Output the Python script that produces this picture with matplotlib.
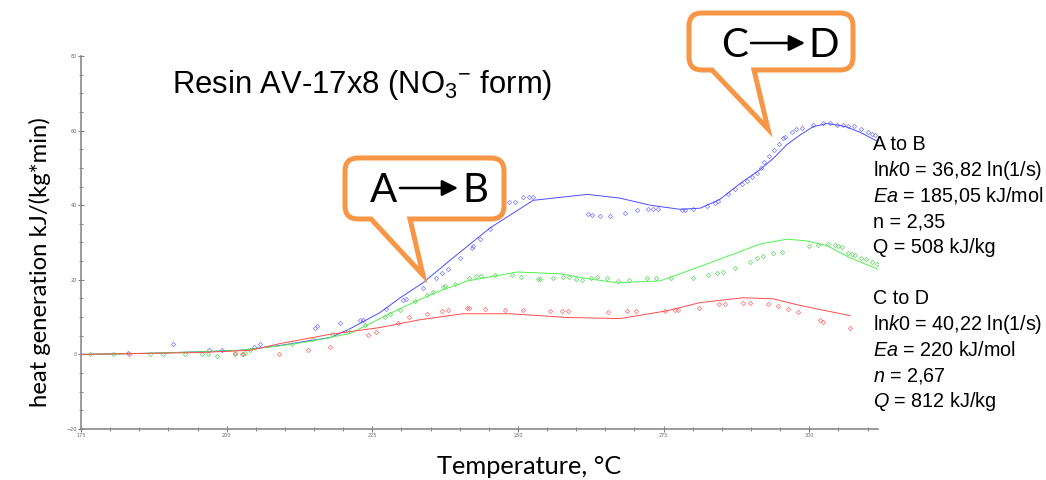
import matplotlib
matplotlib.use("Agg")
import matplotlib.pyplot as plt
from matplotlib.path import Path
from matplotlib.patches import PathPatch
from matplotlib.ticker import MultipleLocator

plt.rcParams["mathtext.fontset"] = "custom"
plt.rcParams["mathtext.rm"] = "Liberation Sans"
plt.rcParams["mathtext.it"] = "Liberation Sans:italic"
plt.rcParams["mathtext.bf"] = "Liberation Sans:bold"

# ---- model curves (temperature, heat generation) ----
fit_blue_t = [175.0, 186.8, 195.4, 202.3, 209.2, 214.3, 217.8, 221.2, 226.3, 229.8,
              233.7, 238.4, 245.2, 252.6, 257.2, 261.9, 267.5, 272.7, 277.8, 281.3,
              284.7, 288.2, 291.6, 293.8, 296.2, 298.5, 300.7, 303.1, 306.2, 308.8, 311.7]
fit_blue_q = [0.0, 0.3, 0.7, 1.1, 2.4, 3.7, 4.5, 6.9, 11.2, 15.2,
              19.2, 25.3, 33.9, 41.3, 42.1, 42.9, 41.9, 40.0, 38.9, 39.2,
              41.6, 45.9, 49.6, 52.5, 56.3, 58.9, 61.1, 61.9, 61.1, 59.5, 57.1]

fit_green_t = [175.0, 186.8, 195.4, 202.3, 209.2, 214.3, 221.2, 226.3, 229.8, 235.4,
               241.3, 249.9, 257.2, 262.0, 267.0, 274.4, 280.1, 287.0, 291.6, 296.2,
               299.7, 303.1, 307.0, 311.7]
fit_green_q = [0.0, 0.3, 0.7, 1.1, 2.3, 3.5, 5.6, 9.6, 12.3, 16.3,
               19.7, 22.1, 21.6, 20.3, 19.2, 19.7, 22.9, 26.9, 29.6, 30.9,
               30.4, 29.1, 25.9, 22.9]

fit_red_t = [175.0, 195.4, 204.0, 209.2, 217.8, 226.3, 233.2, 240.6, 248.7, 258.4,
             267.5, 275.6, 281.3, 288.7, 293.8, 298.5, 307.0]
fit_red_q = [0.0, 0.5, 1.1, 2.9, 5.4, 7.2, 9.3, 10.9, 10.9, 9.9,
             9.6, 11.7, 13.9, 15.2, 14.9, 13.1, 10.4]

# ---- measured points ----
exp_blue_t = [183.1, 190.8, 197.0, 199.2, 204.7, 205.7, 215.2, 215.5, 219.5, 222.9,
              223.4, 227.4, 230.3, 230.8, 233.7, 236.0, 237.0, 238.0, 240.1, 242.1,
              242.3, 243.5, 245.2, 248.5, 249.5, 250.9, 251.9, 252.6, 262.1, 262.7,
              264.1, 265.8, 268.4, 270.5, 272.4, 273.2, 274.1, 278.2, 278.7, 280.1,
              282.5, 283.9, 284.4, 286.1, 287.3, 288.5, 289.4, 290.2, 291.1, 291.8,
              292.3, 293.1, 294.0, 294.8, 295.5, 295.9, 297.1, 297.8, 298.8, 300.7,
              302.4, 303.6, 304.8, 305.8, 306.7, 307.6, 308.8, 310.0, 310.8, 311.3]
exp_blue_q = [0.3, 2.7, 1.1, 1.3, 2.1, 2.7, 7.2, 7.5, 8.5, 9.1,
              9.1, 12.3, 14.7, 14.9, 17.9, 20.5, 21.9, 22.9, 25.9, 28.5,
              29.1, 30.9, 33.6, 40.8, 40.8, 42.1, 42.1, 42.1, 37.6, 37.3,
              37.1, 37.1, 37.9, 38.7, 38.9, 38.9, 38.9, 38.7, 38.7, 38.9,
              39.7, 40.5, 41.1, 42.9, 44.3, 45.6, 46.4, 47.5, 48.5, 49.9,
              51.5, 53.3, 54.9, 56.5, 57.9, 58.4, 59.5, 60.3, 60.8, 61.6,
              62.1, 62.1, 61.6, 61.6, 61.3, 61.1, 60.3, 59.7, 59.2, 58.9]

exp_green_t = [176.5, 180.5, 186.8, 189.1, 192.9, 195.8, 196.8, 198.4, 201.4, 202.6,
               203.2, 204.0, 211.2, 214.8, 218.1, 220.8, 223.8, 227.2, 228.1, 229.8,
               232.3, 234.4, 235.4, 237.2, 237.5, 239.2, 241.6, 242.8, 243.7, 246.1,
               249.0, 250.5, 253.5, 253.8, 256.0, 257.8, 258.8, 260.0, 261.0, 262.6,
               263.6, 265.3, 267.2, 269.1, 272.2, 273.7, 276.3, 280.1, 282.7, 284.2,
               285.2, 287.3, 289.9, 291.1, 292.1, 293.8, 295.4, 300.0, 301.5, 303.3,
               304.5, 305.0, 305.7, 306.7, 307.4, 307.9, 308.8, 309.8, 310.8, 311.7]
exp_green_q = [0.0, 0.0, 0.0, 0.0, 0.0, 0.0, 0.0, -0.3, 0.0, 0.0,
               0.3, 1.3, 2.9, 4.0, 5.6, 6.4, 8.0, 9.9, 10.7, 12.0,
               14.4, 16.0, 16.8, 18.1, 18.4, 18.9, 20.5, 21.1, 21.1, 21.3,
               21.3, 20.8, 20.3, 20.3, 20.5, 20.8, 20.8, 20.3, 20.0, 20.5,
               20.8, 20.5, 19.7, 20.0, 20.5, 20.5, 20.5, 20.5, 21.3, 21.9,
               22.1, 23.2, 24.8, 25.9, 26.4, 27.2, 27.5, 29.1, 29.3, 29.6,
               29.3, 29.1, 28.8, 27.2, 26.9, 26.7, 25.9, 25.6, 24.8, 24.3]

exp_red_t = [183.2, 201.4, 202.8, 209.0, 214.0, 217.8, 224.3, 225.7, 229.4, 231.3,
             234.4, 237.0, 238.0, 241.3, 241.6, 244.4, 247.8, 250.9, 255.5, 257.6,
             258.6, 265.5, 268.7, 270.3, 275.3, 277.0, 277.5, 281.0, 284.5, 285.6,
             288.7, 289.9, 293.0, 294.7, 296.4, 298.1, 301.9, 302.4, 307.0]
exp_red_q = [0.0, 0.3, 0.0, 0.0, 1.3, 2.1, 5.3, 6.1, 8.5, 9.9,
             10.9, 11.7, 12.0, 12.5, 12.5, 12.3, 12.0, 12.0, 11.7, 11.7,
             11.7, 11.5, 11.7, 11.7, 11.7, 12.0, 12.0, 12.5, 13.6, 13.6,
             13.9, 13.9, 13.6, 13.1, 12.3, 11.5, 9.1, 8.8, 7.2]

x_ticks = [175, 200, 225, 250, 275, 300]
y_ticks = [-20, 0, 20, 40, 60, 80]

title_text = r"Resin AV-17x8 (NO$_3$$^{-}$ form)"
xlabel_text = "Temperature, °C"
ylabel_text = "heat generation kJ/(kg*min)"
params_ab = ["A to B",
             r"ln$\mathit{k0}$ = 36,82 ln(1/s)",
             r"$\mathit{Ea}$ = 185,05 kJ/mol",
             "n = 2,35",
             "Q = 508 kJ/kg"]
params_cd = ["C to D",
             r"ln$\mathit{k0}$ = 40,22 ln(1/s)",
             r"$\mathit{Ea}$ = 220 kJ/mol",
             r"$\mathit{n}$ = 2,67",
             r"$\mathit{Q}$ = 812 kJ/kg"]

W, H = 1046, 480
fig = plt.figure(figsize=(W / 100, H / 100), dpi=100)
ax = fig.add_axes([81 / W, 1 - 429 / H, (878 - 81) / W, (429 - 56) / H])

series = [
    (fit_blue_t, fit_blue_q, exp_blue_t, exp_blue_q, "#4c4cff", "#8080ff"),
    (fit_green_t, fit_green_q, exp_green_t, exp_green_q, "#52f052", "#6ad86a"),
    (fit_red_t, fit_red_q, exp_red_t, exp_red_q, "#ff4c4c", "#ff7474"),
]
for ft, fq, et, eq, lc, mc in series:
    ax.plot(et, eq, linestyle="none", marker="D", markersize=2.2,
            markerfacecolor="none", markeredgecolor=mc, markeredgewidth=0.55)
    ax.plot(ft, fq, color=lc, linewidth=0.7)

ax.set_xlim(175, 311.8)
ax.set_ylim(-20, 80)
ax.set_xticks(x_ticks)
ax.set_yticks(y_ticks)
ax.xaxis.set_minor_locator(MultipleLocator(5))
ax.yaxis.set_minor_locator(MultipleLocator(5))
for s in ("top", "right"):
    ax.spines[s].set_visible(False)
for s in ("left", "bottom"):
    ax.spines[s].set_color("#8a8a8a")
    ax.spines[s].set_linewidth(1.2)
ax.tick_params(which="major", direction="inout", length=4, width=0.8,
               color="#808080", labelsize=3.5, labelcolor="#666666", pad=1)
ax.tick_params(which="minor", direction="inout", length=3, width=0.7, color="#808080")
ax.patch.set_alpha(0)

fig.text(40 / W, 1 - 262 / H, ylabel_text, rotation=90, ha="center", va="center",
         family="Lato", fontsize=17.2)
fig.text(529 / W, 1 - 466 / H, xlabel_text, ha="center", va="center",
         family="Lato", fontsize=18.3)

# overlay in pixel units for title, callouts and parameter text
ov = fig.add_axes([0, 0, 1, 1], zorder=5)
ov.set_xlim(0, W)
ov.set_ylim(H, 0)
ov.axis("off")
ov.patch.set_alpha(0)

ov.text(172, 93, title_text, ha="left", va="baseline", family="Liberation Sans",
        fontsize=22.3)

for i, line in enumerate(params_ab):
    ov.text(873, 150 + i * 25.8, line, ha="left", va="baseline",
            family="Liberation Sans", fontsize=14.2)
for i, line in enumerate(params_cd):
    ov.text(873, 304 + i * 25.8, line, ha="left", va="baseline",
            family="Liberation Sans", fontsize=14.2)


def callout(x0, y0, x1, y1, r, base_l, base_r, tip):
    verts = [(x0 + r, y0), (x1 - r, y0), (x1, y0), (x1, y0 + r),
             (x1, y1 - r), (x1, y1), (x1 - r, y1),
             (base_r, y1), tip, (base_l, y1),
             (x0 + r, y1), (x0, y1), (x0, y1 - r),
             (x0, y0 + r), (x0, y0), (x0 + r, y0), (x0 + r, y0)]
    codes = [Path.MOVETO, Path.LINETO, Path.CURVE3, Path.CURVE3,
             Path.LINETO, Path.CURVE3, Path.CURVE3,
             Path.LINETO, Path.LINETO, Path.LINETO,
             Path.LINETO, Path.CURVE3, Path.CURVE3,
             Path.LINETO, Path.CURVE3, Path.CURVE3, Path.CLOSEPOLY]
    ov.add_patch(PathPatch(Path(verts, codes), facecolor="white",
                           edgecolor="#f79646", linewidth=3.6, joinstyle="miter"))


callout(345, 158, 504, 219, 13, 371, 410, (423, 275))
callout(689, 13, 853, 70, 13, 712, 754, (768, 129))


def arrow_label(left, right, xl, xr, xa0, xa1, y):
    ov.text(xl, y, left, ha="center", va="baseline", family="Lato", fontsize=29)
    ov.text(xr, y, right, ha="center", va="baseline", family="Lato", fontsize=29)
    ov.annotate("", xy=(xa1, y - 14), xytext=(xa0, y - 14),
                arrowprops=dict(arrowstyle="-|>", color="black", lw=1.8,
                                mutation_scale=24, shrinkA=0, shrinkB=0))


arrow_label("A", "B", 384, 475, 400, 458, 202)
arrow_label("C", "D", 735, 824, 751, 805, 57)

fig.savefig("out.png", dpi=100)
